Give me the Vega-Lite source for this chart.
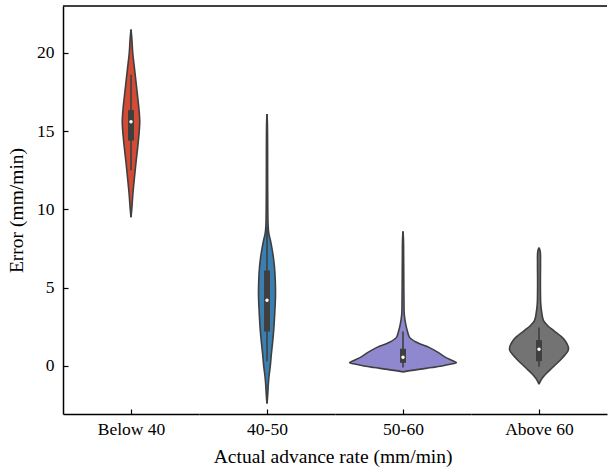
{
  "$schema": "https://vega.github.io/schema/vega-lite/v6.json",
  "padding": {"left": 6, "top": 5, "right": 0, "bottom": 0},
  "bounds": "flush",
  "title": {"text": "Actual advance rate (mm/min)", "orient": "bottom", "anchor": "middle", "dx": 26, "offset": 10, "font": "Liberation Serif", "fontSize": 19.5, "fontWeight": "normal", "color": "black"},
  "data": {"values": [
    {"cat": "Below 40", "v": 21.5, "d": 0},
    {"cat": "Below 40", "v": 21.0, "d": 0.015},
    {"cat": "Below 40", "v": 20.0, "d": 0.035},
    {"cat": "Below 40", "v": 19.0, "d": 0.07},
    {"cat": "Below 40", "v": 18.0, "d": 0.105},
    {"cat": "Below 40", "v": 17.0, "d": 0.14},
    {"cat": "Below 40", "v": 16.2, "d": 0.165},
    {"cat": "Below 40", "v": 15.6, "d": 0.175},
    {"cat": "Below 40", "v": 15.0, "d": 0.165},
    {"cat": "Below 40", "v": 14.0, "d": 0.135},
    {"cat": "Below 40", "v": 13.0, "d": 0.10},
    {"cat": "Below 40", "v": 12.0, "d": 0.068},
    {"cat": "Below 40", "v": 11.0, "d": 0.038},
    {"cat": "Below 40", "v": 10.0, "d": 0.015},
    {"cat": "Below 40", "v": 9.5, "d": 0},

    {"cat": "40-50", "v": 16.1, "d": 0},
    {"cat": "40-50", "v": 15.5, "d": 0.008},
    {"cat": "40-50", "v": 14.0, "d": 0.012},
    {"cat": "40-50", "v": 12.0, "d": 0.013},
    {"cat": "40-50", "v": 10.0, "d": 0.016},
    {"cat": "40-50", "v": 9.0, "d": 0.022},
    {"cat": "40-50", "v": 8.5, "d": 0.035},
    {"cat": "40-50", "v": 8.0, "d": 0.07},
    {"cat": "40-50", "v": 7.5, "d": 0.10},
    {"cat": "40-50", "v": 7.0, "d": 0.125},
    {"cat": "40-50", "v": 6.3, "d": 0.15},
    {"cat": "40-50", "v": 5.5, "d": 0.165},
    {"cat": "40-50", "v": 4.5, "d": 0.17},
    {"cat": "40-50", "v": 3.5, "d": 0.157},
    {"cat": "40-50", "v": 2.4, "d": 0.137},
    {"cat": "40-50", "v": 1.5, "d": 0.112},
    {"cat": "40-50", "v": 0.75, "d": 0.087},
    {"cat": "40-50", "v": 0.0, "d": 0.066},
    {"cat": "40-50", "v": -0.5, "d": 0.046},
    {"cat": "40-50", "v": -1.0, "d": 0.03},
    {"cat": "40-50", "v": -1.8, "d": 0.015},
    {"cat": "40-50", "v": -2.2, "d": 0.006},
    {"cat": "40-50", "v": -2.4, "d": 0},

    {"cat": "50-60", "v": 8.6, "d": 0},
    {"cat": "50-60", "v": 8.0, "d": 0.01},
    {"cat": "50-60", "v": 7.0, "d": 0.013},
    {"cat": "50-60", "v": 6.0, "d": 0.015},
    {"cat": "50-60", "v": 5.0, "d": 0.017},
    {"cat": "50-60", "v": 4.0, "d": 0.02},
    {"cat": "50-60", "v": 3.3, "d": 0.025},
    {"cat": "50-60", "v": 2.66, "d": 0.055},
    {"cat": "50-60", "v": 2.2, "d": 0.09},
    {"cat": "50-60", "v": 1.81, "d": 0.135},
    {"cat": "50-60", "v": 1.5, "d": 0.28},
    {"cat": "50-60", "v": 1.17, "d": 0.53},
    {"cat": "50-60", "v": 0.85, "d": 0.71},
    {"cat": "50-60", "v": 0.53, "d": 0.86},
    {"cat": "50-60", "v": 0.35, "d": 0.98},
    {"cat": "50-60", "v": 0.21, "d": 1.07},
    {"cat": "50-60", "v": 0.14, "d": 0.99},
    {"cat": "50-60", "v": 0.0, "d": 0.78},
    {"cat": "50-60", "v": -0.1, "d": 0.58},
    {"cat": "50-60", "v": -0.2, "d": 0.35},
    {"cat": "50-60", "v": -0.3, "d": 0.14},
    {"cat": "50-60", "v": -0.38, "d": 0},

    {"cat": "Above 60", "v": 7.56, "d": 0},
    {"cat": "Above 60", "v": 7.3, "d": 0.025},
    {"cat": "Above 60", "v": 6.5, "d": 0.03},
    {"cat": "Above 60", "v": 5.5, "d": 0.028},
    {"cat": "Above 60", "v": 4.5, "d": 0.03},
    {"cat": "Above 60", "v": 3.95, "d": 0.035},
    {"cat": "Above 60", "v": 3.3, "d": 0.06},
    {"cat": "Above 60", "v": 2.9, "d": 0.09},
    {"cat": "Above 60", "v": 2.55, "d": 0.18},
    {"cat": "Above 60", "v": 2.24, "d": 0.30},
    {"cat": "Above 60", "v": 1.7, "d": 0.50},
    {"cat": "Above 60", "v": 1.07, "d": 0.59},
    {"cat": "Above 60", "v": 0.53, "d": 0.47},
    {"cat": "Above 60", "v": -0.1, "d": 0.27},
    {"cat": "Above 60", "v": -0.64, "d": 0.10},
    {"cat": "Above 60", "v": -0.9, "d": 0.04},
    {"cat": "Above 60", "v": -1.17, "d": 0},

    {"cat": "Below 40", "lo": 12.5, "q1": 14.4, "med": 15.6, "q3": 16.35, "hi": 18.6},
    {"cat": "40-50", "lo": 0.3, "q1": 2.2, "med": 4.2, "q3": 6.1, "hi": 8.9},
    {"cat": "50-60", "lo": -0.1, "q1": 0.2, "med": 0.55, "q3": 1.1, "hi": 2.2},
    {"cat": "Above 60", "lo": -0.05, "q1": 0.3, "med": 1.07, "q3": 1.65, "hi": 2.45}
  ]},
  "spacing": 0,
  "hconcat": [
    {
      "width": 136, "height": 408,
      "transform": [{"filter": "datum.cat === 'Below 40'"}],
      "resolve": {"scale": {"x": "independent"}},
      "layer": [
        {"transform": [{"filter": "isValid(datum.d)"}],
         "mark": {"type": "area", "orient": "horizontal", "interpolate": "catmull-rom", "fill": "#d24b35", "opacity": 1},
         "encoding": {
           "y": {"field": "v", "type": "quantitative", "scale": {"domain": [-3.07, 23.0], "nice": false, "zero": false}, "title": "Error (mm/min)", "axis": {"values": [0, 5, 10, 15, 20]}},
           "x": {"field": "d", "type": "quantitative", "scale": {"domain": [-1.36, 1.36]}, "title": "Below 40", "axis": {"values": [0], "labels": false}}}},
        {"transform": [{"filter": "isValid(datum.d)"}],
         "mark": {"type": "area", "orient": "horizontal", "interpolate": "catmull-rom", "fill": "#d24b35", "opacity": 1},
         "encoding": {
           "y": {"field": "v", "type": "quantitative"},
           "x": {"field": "d", "type": "quantitative", "scale": {"domain": [-1.36, 1.36], "reverse": true}, "axis": null}}},
        {"transform": [{"filter": "isValid(datum.d)"}],
         "mark": {"type": "line", "interpolate": "catmull-rom", "color": "#3f3f3f", "strokeWidth": 1.6},
         "encoding": {
           "y": {"field": "v", "type": "quantitative"},
           "x": {"field": "d", "type": "quantitative", "scale": {"domain": [-1.36, 1.36]}, "axis": null},
           "order": {"field": "v", "type": "quantitative"}}},
        {"transform": [{"filter": "isValid(datum.d)"}],
         "mark": {"type": "line", "interpolate": "catmull-rom", "color": "#3f3f3f", "strokeWidth": 1.6},
         "encoding": {
           "y": {"field": "v", "type": "quantitative"},
           "x": {"field": "d", "type": "quantitative", "scale": {"domain": [-1.36, 1.36], "reverse": true}, "axis": null},
           "order": {"field": "v", "type": "quantitative"}}},
        {"transform": [{"filter": "isValid(datum.q1)"}],
         "mark": {"type": "rule", "color": "#3f3f3f", "strokeWidth": 1.6},
         "encoding": {
           "x": {"datum": 0, "type": "quantitative", "scale": {"domain": [-1.36, 1.36]}, "axis": null},
           "y": {"field": "lo", "type": "quantitative"}, "y2": {"field": "hi"}}},
        {"transform": [{"filter": "isValid(datum.q1)"}],
         "mark": {"type": "rule", "color": "#3f3f3f", "strokeWidth": 6, "strokeCap": "butt"},
         "encoding": {
           "x": {"datum": 0, "type": "quantitative", "scale": {"domain": [-1.36, 1.36]}, "axis": null},
           "y": {"field": "q1", "type": "quantitative"}, "y2": {"field": "q3"}}},
        {"transform": [{"filter": "isValid(datum.q1)"}],
         "mark": {"type": "point", "filled": true, "color": "white", "size": 12, "opacity": 1},
         "encoding": {
           "x": {"datum": 0, "type": "quantitative", "scale": {"domain": [-1.36, 1.36]}, "axis": null},
           "y": {"field": "med", "type": "quantitative"}}},
        {"transform": [{"filter": "isValid(datum.q1)"}],
         "mark": {"type": "rule", "color": "black", "strokeWidth": 1.5},
         "encoding": {"y": {"datum": 23.0, "type": "quantitative"}}}
      ]
    },
    {
      "width": 136, "height": 408,
      "transform": [{"filter": "datum.cat === '40-50'"}],
      "resolve": {"scale": {"x": "independent"}},
      "layer": [
        {"transform": [{"filter": "isValid(datum.d)"}],
         "mark": {"type": "area", "orient": "horizontal", "interpolate": "catmull-rom", "fill": "#3a7fb0", "opacity": 1},
         "encoding": {
           "y": {"field": "v", "type": "quantitative", "scale": {"domain": [-3.07, 23.0], "nice": false, "zero": false}, "axis": null},
           "x": {"field": "d", "type": "quantitative", "scale": {"domain": [-1.36, 1.36]}, "title": "40-50", "axis": {"values": [0], "labels": false}}}},
        {"transform": [{"filter": "isValid(datum.d)"}],
         "mark": {"type": "area", "orient": "horizontal", "interpolate": "catmull-rom", "fill": "#3a7fb0", "opacity": 1},
         "encoding": {
           "y": {"field": "v", "type": "quantitative"},
           "x": {"field": "d", "type": "quantitative", "scale": {"domain": [-1.36, 1.36], "reverse": true}, "axis": null}}},
        {"transform": [{"filter": "isValid(datum.d)"}],
         "mark": {"type": "line", "interpolate": "catmull-rom", "color": "#3f3f3f", "strokeWidth": 1.6},
         "encoding": {
           "y": {"field": "v", "type": "quantitative"},
           "x": {"field": "d", "type": "quantitative", "scale": {"domain": [-1.36, 1.36]}, "axis": null},
           "order": {"field": "v", "type": "quantitative"}}},
        {"transform": [{"filter": "isValid(datum.d)"}],
         "mark": {"type": "line", "interpolate": "catmull-rom", "color": "#3f3f3f", "strokeWidth": 1.6},
         "encoding": {
           "y": {"field": "v", "type": "quantitative"},
           "x": {"field": "d", "type": "quantitative", "scale": {"domain": [-1.36, 1.36], "reverse": true}, "axis": null},
           "order": {"field": "v", "type": "quantitative"}}},
        {"transform": [{"filter": "isValid(datum.q1)"}],
         "mark": {"type": "rule", "color": "#3f3f3f", "strokeWidth": 1.6},
         "encoding": {
           "x": {"datum": 0, "type": "quantitative", "scale": {"domain": [-1.36, 1.36]}, "axis": null},
           "y": {"field": "lo", "type": "quantitative"}, "y2": {"field": "hi"}}},
        {"transform": [{"filter": "isValid(datum.q1)"}],
         "mark": {"type": "rule", "color": "#3f3f3f", "strokeWidth": 6, "strokeCap": "butt"},
         "encoding": {
           "x": {"datum": 0, "type": "quantitative", "scale": {"domain": [-1.36, 1.36]}, "axis": null},
           "y": {"field": "q1", "type": "quantitative"}, "y2": {"field": "q3"}}},
        {"transform": [{"filter": "isValid(datum.q1)"}],
         "mark": {"type": "point", "filled": true, "color": "white", "size": 12, "opacity": 1},
         "encoding": {
           "x": {"datum": 0, "type": "quantitative", "scale": {"domain": [-1.36, 1.36]}, "axis": null},
           "y": {"field": "med", "type": "quantitative"}}},
        {"transform": [{"filter": "isValid(datum.q1)"}],
         "mark": {"type": "rule", "color": "black", "strokeWidth": 1.5},
         "encoding": {"y": {"datum": 23.0, "type": "quantitative"}}}
      ]
    },
    {
      "width": 136, "height": 408,
      "transform": [{"filter": "datum.cat === '50-60'"}],
      "resolve": {"scale": {"x": "independent"}},
      "layer": [
        {"transform": [{"filter": "isValid(datum.d)"}],
         "mark": {"type": "area", "orient": "horizontal", "interpolate": "catmull-rom", "fill": "#9088cf", "opacity": 1},
         "encoding": {
           "y": {"field": "v", "type": "quantitative", "scale": {"domain": [-3.07, 23.0], "nice": false, "zero": false}, "axis": null},
           "x": {"field": "d", "type": "quantitative", "scale": {"domain": [-1.36, 1.36]}, "title": "50-60", "axis": {"values": [0], "labels": false}}}},
        {"transform": [{"filter": "isValid(datum.d)"}],
         "mark": {"type": "area", "orient": "horizontal", "interpolate": "catmull-rom", "fill": "#9088cf", "opacity": 1},
         "encoding": {
           "y": {"field": "v", "type": "quantitative"},
           "x": {"field": "d", "type": "quantitative", "scale": {"domain": [-1.36, 1.36], "reverse": true}, "axis": null}}},
        {"transform": [{"filter": "isValid(datum.d)"}],
         "mark": {"type": "line", "interpolate": "catmull-rom", "color": "#3f3f3f", "strokeWidth": 1.6},
         "encoding": {
           "y": {"field": "v", "type": "quantitative"},
           "x": {"field": "d", "type": "quantitative", "scale": {"domain": [-1.36, 1.36]}, "axis": null},
           "order": {"field": "v", "type": "quantitative"}}},
        {"transform": [{"filter": "isValid(datum.d)"}],
         "mark": {"type": "line", "interpolate": "catmull-rom", "color": "#3f3f3f", "strokeWidth": 1.6},
         "encoding": {
           "y": {"field": "v", "type": "quantitative"},
           "x": {"field": "d", "type": "quantitative", "scale": {"domain": [-1.36, 1.36], "reverse": true}, "axis": null},
           "order": {"field": "v", "type": "quantitative"}}},
        {"transform": [{"filter": "isValid(datum.q1)"}],
         "mark": {"type": "rule", "color": "#3f3f3f", "strokeWidth": 1.6},
         "encoding": {
           "x": {"datum": 0, "type": "quantitative", "scale": {"domain": [-1.36, 1.36]}, "axis": null},
           "y": {"field": "lo", "type": "quantitative"}, "y2": {"field": "hi"}}},
        {"transform": [{"filter": "isValid(datum.q1)"}],
         "mark": {"type": "rule", "color": "#3f3f3f", "strokeWidth": 6, "strokeCap": "butt"},
         "encoding": {
           "x": {"datum": 0, "type": "quantitative", "scale": {"domain": [-1.36, 1.36]}, "axis": null},
           "y": {"field": "q1", "type": "quantitative"}, "y2": {"field": "q3"}}},
        {"transform": [{"filter": "isValid(datum.q1)"}],
         "mark": {"type": "point", "filled": true, "color": "white", "size": 12, "opacity": 1},
         "encoding": {
           "x": {"datum": 0, "type": "quantitative", "scale": {"domain": [-1.36, 1.36]}, "axis": null},
           "y": {"field": "med", "type": "quantitative"}}},
        {"transform": [{"filter": "isValid(datum.q1)"}],
         "mark": {"type": "rule", "color": "black", "strokeWidth": 1.5},
         "encoding": {"y": {"datum": 23.0, "type": "quantitative"}}}
      ]
    },
    {
      "width": 136, "height": 408,
      "transform": [{"filter": "datum.cat === 'Above 60'"}],
      "resolve": {"scale": {"x": "independent"}},
      "layer": [
        {"transform": [{"filter": "isValid(datum.d)"}],
         "mark": {"type": "area", "orient": "horizontal", "interpolate": "catmull-rom", "fill": "#737373", "opacity": 1},
         "encoding": {
           "y": {"field": "v", "type": "quantitative", "scale": {"domain": [-3.07, 23.0], "nice": false, "zero": false}, "axis": null},
           "x": {"field": "d", "type": "quantitative", "scale": {"domain": [-1.36, 1.36]}, "title": "Above 60", "axis": {"values": [0], "labels": false}}}},
        {"transform": [{"filter": "isValid(datum.d)"}],
         "mark": {"type": "area", "orient": "horizontal", "interpolate": "catmull-rom", "fill": "#737373", "opacity": 1},
         "encoding": {
           "y": {"field": "v", "type": "quantitative"},
           "x": {"field": "d", "type": "quantitative", "scale": {"domain": [-1.36, 1.36], "reverse": true}, "axis": null}}},
        {"transform": [{"filter": "isValid(datum.d)"}],
         "mark": {"type": "line", "interpolate": "catmull-rom", "color": "#3f3f3f", "strokeWidth": 1.6},
         "encoding": {
           "y": {"field": "v", "type": "quantitative"},
           "x": {"field": "d", "type": "quantitative", "scale": {"domain": [-1.36, 1.36]}, "axis": null},
           "order": {"field": "v", "type": "quantitative"}}},
        {"transform": [{"filter": "isValid(datum.d)"}],
         "mark": {"type": "line", "interpolate": "catmull-rom", "color": "#3f3f3f", "strokeWidth": 1.6},
         "encoding": {
           "y": {"field": "v", "type": "quantitative"},
           "x": {"field": "d", "type": "quantitative", "scale": {"domain": [-1.36, 1.36], "reverse": true}, "axis": null},
           "order": {"field": "v", "type": "quantitative"}}},
        {"transform": [{"filter": "isValid(datum.q1)"}],
         "mark": {"type": "rule", "color": "#3f3f3f", "strokeWidth": 1.6},
         "encoding": {
           "x": {"datum": 0, "type": "quantitative", "scale": {"domain": [-1.36, 1.36]}, "axis": null},
           "y": {"field": "lo", "type": "quantitative"}, "y2": {"field": "hi"}}},
        {"transform": [{"filter": "isValid(datum.q1)"}],
         "mark": {"type": "rule", "color": "#3f3f3f", "strokeWidth": 6, "strokeCap": "butt"},
         "encoding": {
           "x": {"datum": 0, "type": "quantitative", "scale": {"domain": [-1.36, 1.36]}, "axis": null},
           "y": {"field": "q1", "type": "quantitative"}, "y2": {"field": "q3"}}},
        {"transform": [{"filter": "isValid(datum.q1)"}],
         "mark": {"type": "point", "filled": true, "color": "white", "size": 12, "opacity": 1},
         "encoding": {
           "x": {"datum": 0, "type": "quantitative", "scale": {"domain": [-1.36, 1.36]}, "axis": null},
           "y": {"field": "med", "type": "quantitative"}}},
        {"transform": [{"filter": "isValid(datum.q1)"}],
         "mark": {"type": "rule", "color": "black", "strokeWidth": 1.5},
         "encoding": {"y": {"datum": 23.0, "type": "quantitative"}}}
      ]
    }
  ],
  "config": {
    "view": {"stroke": null},
    "axis": {
      "grid": false,
      "domainColor": "black", "domainWidth": 1.5,
      "tickColor": "black", "tickWidth": 1.2, "tickSize": -5,
      "labelFont": "Liberation Serif", "labelFontSize": 17.5, "labelColor": "black", "labelPadding": 14,
      "titleFont": "Liberation Serif", "titleFontSize": 19.5, "titleFontWeight": "normal", "titleColor": "black", "titlePadding": 10
    },
    "axisX": {"titleFontSize": 17.5, "titlePadding": 6}
  }
}
